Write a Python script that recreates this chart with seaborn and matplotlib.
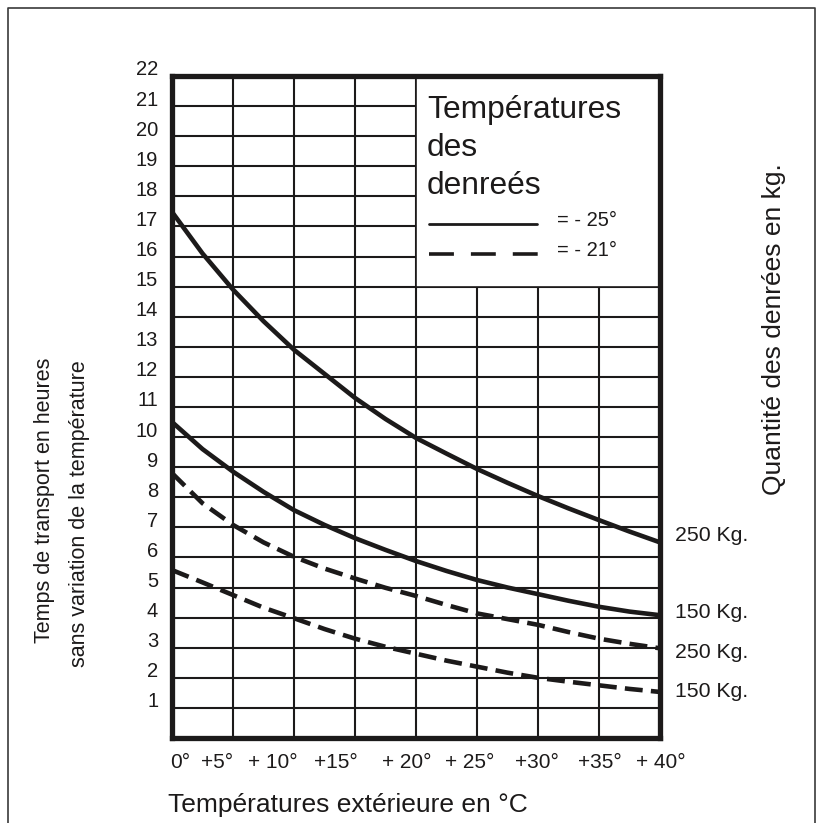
import matplotlib.pyplot as plt
import matplotlib.transforms as mtransforms
import numpy as np
import pandas as pd
import seaborn as sns
from matplotlib.lines import Line2D
from matplotlib.patches import Rectangle

# temperatures exterieures (°C)
temps_ext = [0, 2.5, 5, 7.5, 10, 12.5, 15, 17.5, 20, 22.5, 25, 27.5, 30, 32.5, 35, 37.5, 40]

# heures de transport
h_250_m25 = [17.48, 16.1, 14.9, 13.85, 12.9, 12.1, 11.3, 10.6, 9.97,
             9.45, 8.94, 8.48, 8.04, 7.63, 7.24, 6.86, 6.5]
h_150_m25 = [10.5, 9.6, 8.85, 8.18, 7.57, 7.08, 6.64, 6.25, 5.88,
             5.55, 5.25, 5.0, 4.78, 4.56, 4.36, 4.2, 4.08]
h_250_m21 = [8.8, 7.8, 7.08, 6.5, 6.02, 5.63, 5.3, 4.99, 4.72,
             4.42, 4.14, 3.95, 3.76, 3.52, 3.3, 3.13, 2.98]
h_150_m21 = [5.58, 5.17, 4.75, 4.33, 3.98, 3.62, 3.3, 3.03, 2.8,
             2.57, 2.37, 2.17, 2.0, 1.87, 1.75, 1.63, 1.53]

series_names = ["250 Kg. (-25)", "150 Kg. (-25)", "250 Kg. (-21)", "150 Kg. (-21)"]
series_labels = ["250 Kg.", "150 Kg.", "250 Kg.", "150 Kg."]
series_temp = ["-25", "-25", "-21", "-21"]
series_values = [h_250_m25, h_150_m25, h_250_m21, h_150_m21]

x_ticks = [0, 5, 10, 15, 20, 25, 30, 35, 40]
x_tick_labels = ["0°", "+5°", "+ 10°", "+15°", "+ 20°", "+ 25°", "+30°", "+35°", "+ 40°"]
y_tick_labels = [""] + [str(i) for i in range(1, 23)]

legend_title = ["Températures", "des", "denreés"]
legend_labels = ["= - 25°", "= - 21°"]

rows = []
for name, tp, vals in zip(series_names, series_temp, series_values):
    for t, v in zip(temps_ext, vals):
        rows.append({"temp": t, "heures": v, "serie": name, "denree": tp})
df = pd.DataFrame(rows)

sns.set_theme(style="white")
plt.rcParams["font.family"] = ["Liberation Sans", "DejaVu Sans"]

ink = "#1c1a1a"

fig = plt.figure(figsize=(8.2, 8.23), dpi=100)
ax = fig.add_axes([0.2098, 0.1033, 0.5951, 0.8044])

sns.lineplot(
    data=df,
    x="temp",
    y="heures",
    units="serie",
    estimator=None,
    style="denree",
    dashes={"-25": "", "-21": (3.9, 1.8)},
    color=ink,
    linewidth=3.3,
    legend=False,
    ax=ax,
    zorder=4,
)

ax.set_xlim(0, 40)
ax.set_ylim(0, 22)
ax.set_xticks(x_ticks)
ax.set_xticklabels(x_tick_labels, fontsize=15, color=ink)
ax.set_yticks(range(0, 23))
ax.set_yticklabels(y_tick_labels, fontsize=14.5, color=ink)
ax.tick_params(axis="both", length=0)
ax.tick_params(axis="y", pad=10)
ax.tick_params(axis="x", pad=11)
ax.set_xlabel("")
ax.set_ylabel("")

ax.grid(True, color=ink, linewidth=1.5)
ax.set_axisbelow(True)
for sp in ax.spines.values():
    sp.set_visible(True)
    sp.set_color(ink)
    sp.set_linewidth(3.8)
    sp.set_zorder(6)

# y labels sit a little above their grid line
for lab in ax.get_yticklabels():
    lab.set_transform(lab.get_transform() + mtransforms.ScaledTranslation(0, 0.08, fig.dpi_scale_trans))

# x labels are slightly shifted in the original
x_shift = [0.08, -0.16, -0.21, -0.19, -0.09, -0.07, -0.01, 0.01, 0.01]
for lab, dx in zip(ax.get_xticklabels(), x_shift):
    lab.set_transform(lab.get_transform() + mtransforms.ScaledTranslation(dx, 0, fig.dpi_scale_trans))

# legend box covering the upper right of the grid
box = Rectangle((20, 15), 20, 7, facecolor="white", edgecolor=ink, linewidth=1.2, zorder=3)
ax.add_patch(box)

# legend content, placed inside the box
for txt, yy in zip(legend_title, [20.87, 19.61, 18.35]):
    ax.text(20.9, yy, txt, fontsize=22.9, color=ink, ha="left", va="center", zorder=5)
ax.add_line(Line2D([21.1, 29.9], [17.08, 17.08], color=ink, linewidth=2.0, zorder=5))
ax.add_line(Line2D([21.1, 30.6], [16.1, 16.1], color=ink, linewidth=2.6,
                   linestyle=(0, (6.9, 4.7)), zorder=5))
for txt, yy in zip(legend_labels, [17.21, 16.21]):
    ax.text(31.55, yy, txt, fontsize=14.5, color=ink, ha="left", va="center", zorder=5)

# series end labels
end_dy = [5, 2.2, -2.9, 0]
for lab, vals, dy in zip(series_labels, series_values, end_dy):
    ax.annotate(
        lab,
        xy=(temps_ext[-1], vals[-1]),
        xytext=(11, dy),
        textcoords="offset points",
        va="center",
        ha="left",
        fontsize=15.3,
        color=ink,
        annotation_clip=False,
    )

# axis titles
fig.text(168 / 820, 1 - 805 / 823, "Températures extérieure en °C", fontsize=19,
         color=ink, ha="left", va="center")
fig.text(45 / 820, 1 - 500 / 823, "Temps de transport en heures", fontsize=15.5,
         color=ink, ha="center", va="center", rotation=90)
fig.text(80 / 820, 1 - 514 / 823, "sans variation de la température", fontsize=15.5,
         color=ink, ha="center", va="center", rotation=90)
fig.text(774 / 820, 1 - 329 / 823, "Quantité des denrées en kg.", fontsize=19,
         color=ink, ha="center", va="center", rotation=90)

# outer frame (open at the bottom)
x0, x1, y1 = 8 / 820, 815 / 820, 1 - 8 / 823
fig.add_artist(Line2D([x0, x0, x1, x1], [-0.01, y1, y1, -0.01], color="#3a3a3a",
                      linewidth=1.2, transform=fig.transFigure))

fig.savefig("out.png", dpi=100)
